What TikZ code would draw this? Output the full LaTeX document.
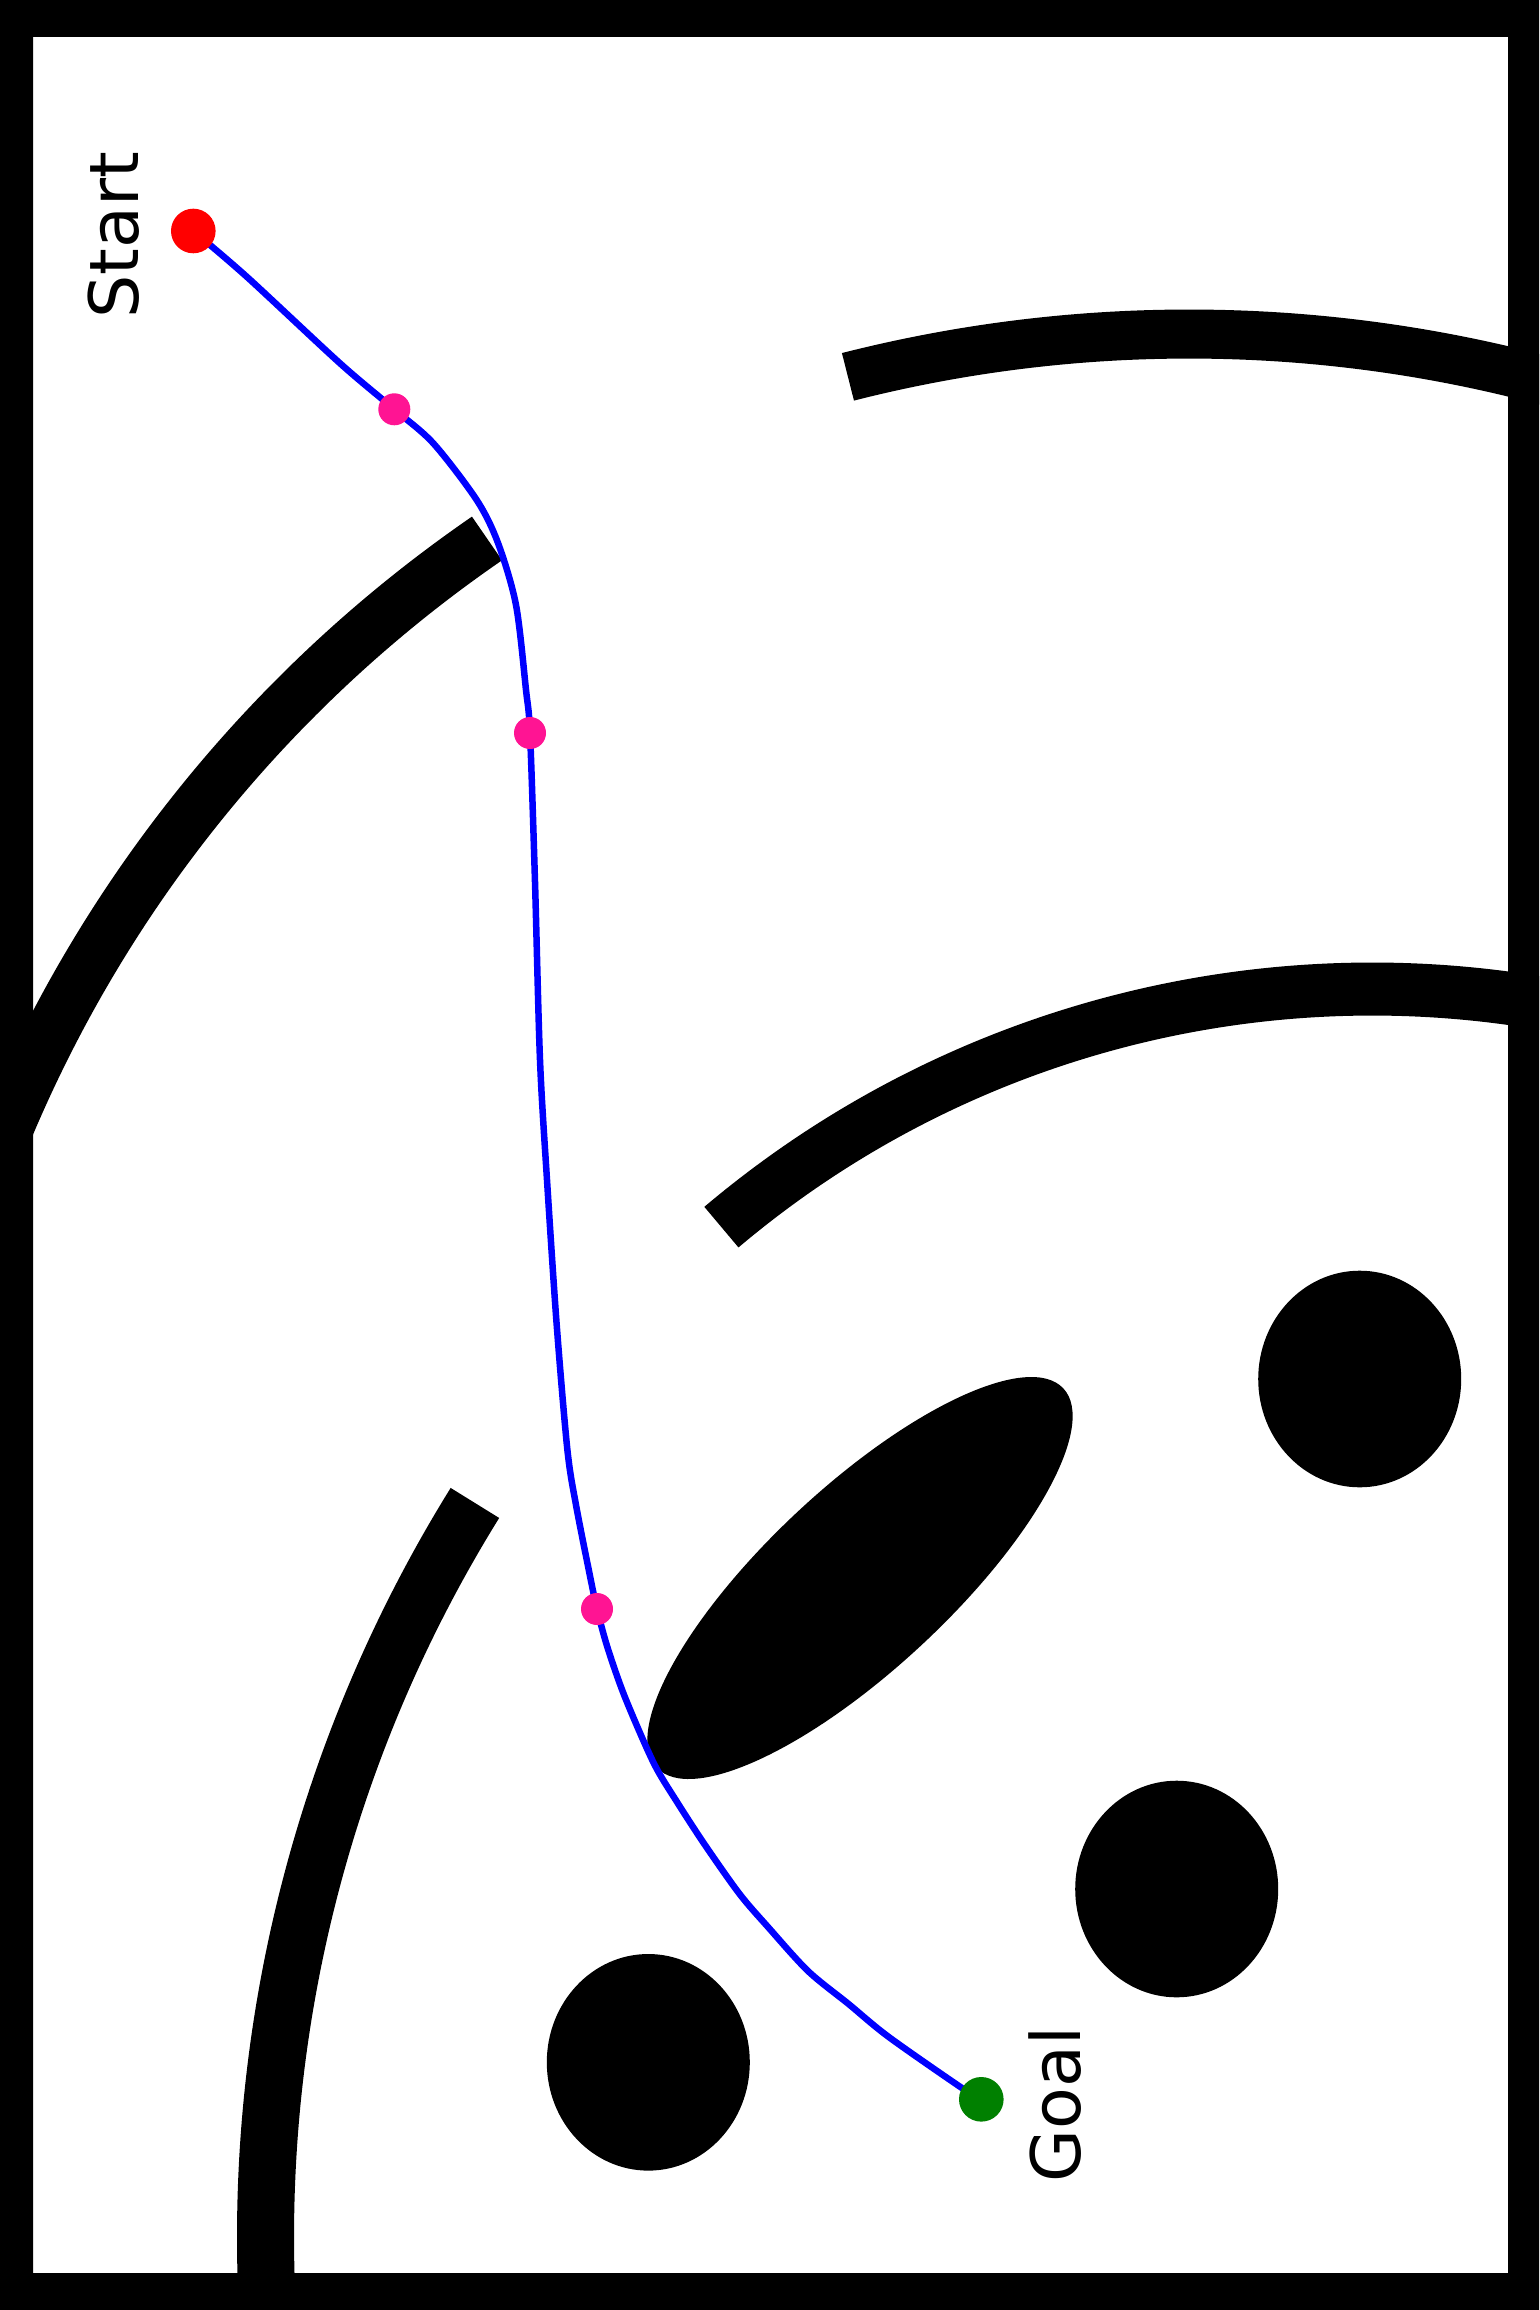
\documentclass[tikz,border=0pt]{standalone}
\usepackage{fontspec}
\setmainfont{DejaVu Sans}
\usetikzlibrary{calc}
\definecolor{deeppink}{RGB}{255,20,147}
\definecolor{goalgreen}{RGB}{0,128,0}

\begin{document}
\begin{tikzpicture}[
    x=0.01cm, y=-0.01cm,
    wall/.style={draw=black, line width=#1, line cap=butt},
    wall/.default=5.3mm,
    obst/.style={fill=black},
    route/.style={draw=blue, line width=0.65mm, line join=round},
    enddot/.style={circle, fill=#1, draw=none, inner sep=0pt, minimum size=4.46mm},
    wpt/.style={circle, fill=deeppink, draw=none, inner sep=0pt, minimum size=3.2mm},
    lbl/.style={rotate=90, anchor=base, inner sep=0pt, font=\fontsize{19.4}{23}\selectfont},
]

\fill[white] (0,0) rectangle (1539,2310);
\path[use as bounding box] (0,0) rectangle (1539,2310);

% curved walls
\begin{scope}
\clip (0,0) rectangle (1539,2310);
\draw[wall=4.9mm] (1189,1715) ++(255.7:1381) arc[start angle=255.7, end angle=295, radius=1381];
\draw[wall] (1251.6,1651) ++(235.5:1350) arc[start angle=235.5, end angle=195, radius=1350];
\draw[wall] (1372,1997) ++(229.8:1008) arc[start angle=229.8, end angle=300, radius=1008];
\draw[wall=5.7mm] (1657,2237) ++(211.84:1391.5) arc[start angle=211.84, end angle=176, radius=1391.5];
\end{scope}

% obstacles
\fill[obst, rotate around={43:(860,1578)}] (860,1578) ellipse[x radius=278, y radius=91];
\fill[obst] (1359.7,1379) ellipse[x radius=101.5, y radius=108.3];
\fill[obst] (1176.7,1889) ellipse[x radius=101.5, y radius=108.3];
\fill[obst] (648.3,2062.3) ellipse[x radius=101.5, y radius=108.3];

% frame
\fill[black, even odd rule] (0,0) rectangle (1539,2310) (33,37) rectangle (1508,2273);

% waypoints
\coordinate (s) at (193.3,231);
\coordinate (w1) at (394.3,409.3);
\coordinate (w2) at (530,733);
\coordinate (w3) at (597,1609);
\coordinate (g) at (981.3,2099.3);

\draw[route] plot[smooth, tension=0.5] coordinates {
    (s) (246.7,276.7) (340,363.3) (w1) (433.3,443.3) (476.7,500) (498,543)
    (516,605) (526,690) (w2) (535,882) (540,1060) (547,1180) (556.7,1325)
    (567.4,1450) (576,1505) (590,1576) (w3) (607.5,1647.5) (624.8,1696.8)
    (653.5,1762.6) (676.4,1801) (705,1845) (739.6,1894) (768,1927) (808,1971)
    (848.6,2004) (888.8,2037) (963.4,2089) (g)};

\node[enddot=red] (startpt) at (s) {};
\node[wpt] (wp1) at (w1) {};
\node[wpt] (wp2) at (w2) {};
\node[wpt] (wp3) at (w3) {};
\node[enddot=goalgreen] (goalpt) at (g) {};

\node[lbl] (startlbl) at ($(s)+(-55.3,4.5)$) {Start};
\node[lbl] (goallbl) at ($(g)+(98.7,5.2)$) {Goal};

\end{tikzpicture}
\end{document}
